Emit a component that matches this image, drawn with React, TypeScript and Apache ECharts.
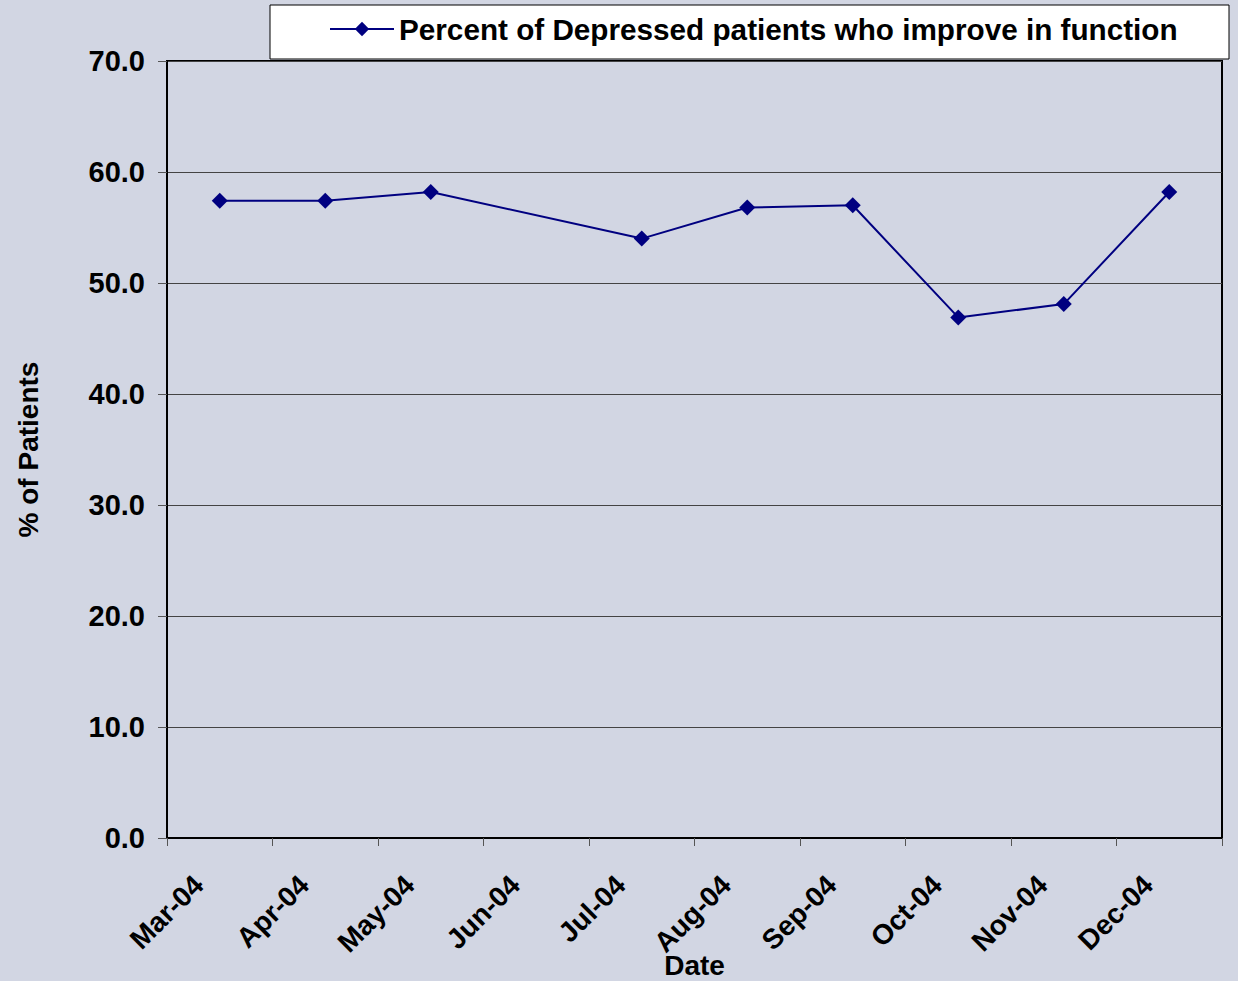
import React, { useEffect, useRef } from "react";
import * as echarts from "echarts";

const categories = ["Mar-04", "Apr-04", "May-04", "Jun-04", "Jul-04", "Aug-04", "Sep-04", "Oct-04", "Nov-04", "Dec-04"];
const improvePct: (number | null)[] = [57.4, 57.4, 58.2, null, 54.0, 56.8, 57.0, 46.9, 48.1, 58.2];
const seriesName = "Percent of Depressed patients who improve in function";
const yTicks = { min: 0, max: 70, interval: 10 };

const FONT = "'Liberation Sans', Arial, sans-serif";

export default function App() {
  const ref = useRef<HTMLDivElement>(null);
  useEffect(() => {
    if (!ref.current) return;
    const chart = echarts.init(ref.current, null, { renderer: "svg" });
    chart.setOption({
      animation: false,
      backgroundColor: "#D2D6E3",
      textStyle: { fontFamily: FONT },
      graphic: [
        {
          type: "rect",
          z: 0,
          shape: { x: 270, y: 5, width: 959, height: 54 },
          style: { fill: "#ffffff", stroke: "#000000", lineWidth: 1 },
        },
      ],
      legend: {
        z: 10,
        left: 329,
        top: 14,
        padding: 0,
        itemWidth: 64,
        itemHeight: 18,
        itemGap: 10,
        textStyle: { fontFamily: FONT, fontSize: 29.7, fontWeight: "bold", color: "#000" },
        data: [seriesName],
      },
      grid: {
        left: 167,
        top: 61,
        right: 16,
        bottom: 143,
        containLabel: false,
        outerBoundsMode: "none",
        show: true,
        borderColor: "#000",
        borderWidth: 2,
        backgroundColor: "transparent",
      },
      xAxis: {
        type: "category",
        data: categories,
        boundaryGap: true,
        name: "Date",
        nameLocation: "middle",
        nameGap: 113,
        nameMoveOverlap: false,
        nameTextStyle: { fontFamily: FONT, fontSize: 28, fontWeight: "bold", color: "#000" },
        axisLine: { show: true, lineStyle: { color: "#000", width: 2 } },
        axisTick: { show: true, inside: false, length: 8, lineStyle: { color: "#555", width: 1 } },
        axisLabel: {
          rotate: 45,
          margin: 21,
          padding: [0, 30, 0, 0],
          fontFamily: FONT,
          fontSize: 28,
          fontWeight: "bold",
          color: "#000",
        },
        splitLine: { show: false },
      },
      yAxis: {
        type: "value",
        min: yTicks.min,
        max: yTicks.max,
        interval: yTicks.interval,
        name: "% of Patients",
        nameLocation: "middle",
        nameGap: 125,
        nameMoveOverlap: false,
        nameTextStyle: { fontFamily: FONT, fontSize: 28, fontWeight: "bold", color: "#000" },
        axisLine: { show: true, lineStyle: { color: "#000", width: 2 } },
        axisTick: { show: true, inside: false, length: 9, lineStyle: { color: "#555", width: 1 } },
        axisLabel: {
          margin: 22,
          fontFamily: FONT,
          fontSize: 29,
          fontWeight: "bold",
          color: "#000",
          formatter: (v: number) => v.toFixed(1),
        },
        splitLine: { show: true, lineStyle: { color: "#444", width: 1 } },
      },
      series: [
        {
          name: seriesName,
          type: "line",
          data: improvePct.map((v) => (v === null ? "-" : v)),
          connectNulls: true,
          symbol: "diamond",
          symbolSize: 16,
          showAllSymbol: true,
          itemStyle: { color: "#000080" },
          lineStyle: { color: "#000080", width: 2 },
        },
      ],
    });
    return () => chart.dispose();
  }, []);
  return (
    <div
      ref={ref}
      style={{ position: "fixed", left: 0, top: 0, width: 1238, height: 981 }}
    />
  );
}
